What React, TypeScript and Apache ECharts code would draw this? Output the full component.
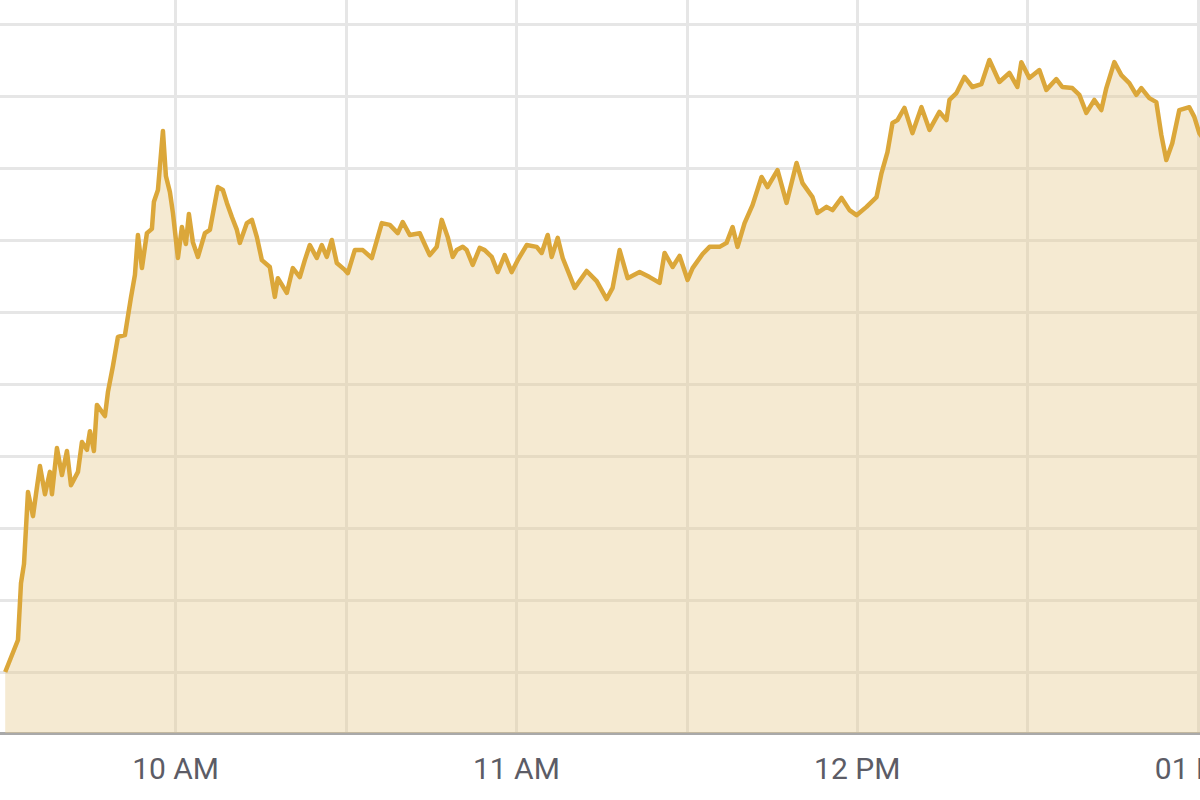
import React, { useEffect, useRef } from "react";
import * as echarts from "echarts";

// minutes after 09:30
const minutes = [
  0, 2.25, 2.78, 3.31, 4.01, 4.89, 5.42, 6.12, 7.0, 7.88,
  8.23, 9.11, 9.99, 10.87, 11.58, 12.81, 13.51, 14.39, 14.92, 15.62,
  16.15, 17.56, 18.09, 18.97, 19.85, 21.08, 22.13, 22.84, 23.37, 24.07,
  24.95, 25.83, 26.18, 26.89, 27.77, 28.29, 29.0, 29.53, 30.41, 31.11,
  31.81, 32.34, 33.04, 33.93, 35.16, 36.04, 37.44, 38.32, 39.03, 39.91,
  40.79, 41.31, 42.55, 43.43, 44.31, 45.19, 46.59, 47.47, 48.0, 49.58,
  50.64, 51.87, 52.75, 53.63, 54.86, 55.74, 56.62, 57.5, 58.38, 59.79,
  60.32, 61.55, 62.96, 64.54, 66.3, 67.71, 69.11, 69.99, 71.23, 72.98,
  73.51, 74.74, 75.97, 76.85, 77.91, 78.79, 79.49, 80.55, 81.25, 82.31,
  83.54, 84.42, 85.65, 86.71, 87.94, 89.17, 90.23, 91.81, 93.57, 94.45,
  95.51, 96.21, 97.27, 98.15, 100.26, 102.37, 104.13, 105.89, 106.94, 108.17,
  109.58, 111.69, 113.45, 115.21, 116.09, 117.5, 118.73, 120.14, 121.02, 122.78,
  124.01, 125.77, 127.0, 128.06, 128.93, 130.17, 131.57, 133.16, 134.21, 135.97,
  137.56, 139.32, 140.37, 142.13, 143.01, 144.6, 145.65, 147.24, 148.64, 149.88,
  151.64, 153.4, 154.28, 155.33, 156.21, 157.09, 158.32, 159.73, 161.31, 162.72,
  164.48, 165.71, 166.24, 167.47, 168.88, 170.28, 171.87, 173.27, 175.03, 176.79,
  178.2, 178.9, 180.31, 182.07, 183.3, 185.06, 186.11, 187.87, 189.11, 190.34,
  191.75, 192.98, 193.86, 195.27, 196.5, 197.91, 199.14, 200.02, 201.43, 202.66,
  203.54, 204.42, 205.47, 206.71, 208.47, 209.35, 210.23, 211.1,
];

const prices = [
  1300.0, 1300.89, 1302.47, 1303.0, 1305.0, 1304.33, 1304.94, 1305.72, 1304.94, 1305.56,
  1304.94, 1306.22, 1305.47, 1306.14, 1305.19, 1305.56, 1306.39, 1306.17, 1306.69, 1306.14,
  1307.42, 1307.11, 1307.78, 1308.5, 1309.31, 1309.36, 1310.39, 1311.03, 1312.14, 1311.22,
  1312.19, 1312.31, 1313.06, 1313.39, 1315.03, 1313.78, 1313.33, 1312.75, 1311.5, 1312.36,
  1311.89, 1312.72, 1311.94, 1311.53, 1312.19, 1312.28, 1313.47, 1313.39, 1313.03, 1312.64,
  1312.28, 1311.92, 1312.47, 1312.56, 1312.08, 1311.44, 1311.25, 1310.42, 1310.94, 1310.53,
  1311.22, 1310.97, 1311.44, 1311.86, 1311.5, 1311.86, 1311.53, 1312.0, 1311.36, 1311.17,
  1311.08, 1311.72, 1311.72, 1311.5, 1312.47, 1312.42, 1312.19, 1312.5, 1312.14, 1312.19,
  1312.0, 1311.58, 1311.81, 1312.56, 1312.08, 1311.53, 1311.72, 1311.81, 1311.72, 1311.31,
  1311.78, 1311.72, 1311.53, 1311.11, 1311.58, 1311.11, 1311.44, 1311.86, 1311.81, 1311.64,
  1312.14, 1311.53, 1312.06, 1311.5, 1310.67, 1311.14, 1310.86, 1310.36, 1310.67, 1311.72,
  1310.94, 1311.11, 1310.97, 1310.81, 1311.64, 1311.25, 1311.56, 1310.89, 1311.22, 1311.61,
  1311.81, 1311.81, 1311.92, 1312.36, 1311.81, 1312.47, 1312.97, 1313.75, 1313.47, 1313.94,
  1313.03, 1314.14, 1313.58, 1313.19, 1312.75, 1312.92, 1312.83, 1313.17, 1312.83, 1312.69,
  1312.92, 1313.19, 1313.86, 1314.44, 1315.25, 1315.33, 1315.67, 1314.97, 1315.69, 1315.06,
  1315.56, 1315.33, 1315.89, 1316.08, 1316.53, 1316.25, 1316.33, 1317.0, 1316.39, 1316.64,
  1316.25, 1316.94, 1316.5, 1316.72, 1316.17, 1316.47, 1316.25, 1316.22, 1316.03, 1315.53,
  1315.89, 1315.61, 1316.22, 1316.94, 1316.58, 1316.36, 1316.03, 1316.22, 1315.94, 1315.83,
  1314.92, 1314.22, 1314.69, 1315.61, 1315.69, 1315.42, 1314.97, 1314.78,
];

// x-axis hour labels (minutes after 09:30)
const hourTicks = [30, 90, 150, 210];
const hourLabels = ["10 AM", "11 AM", "12 PM", "01 PM"];

const GRID = "#e6e6e6";
const HIDDEN = "rgba(0,0,0,0)";

export default function App() {
  const ref = useRef<HTMLDivElement>(null);

  useEffect(() => {
    if (!ref.current) return;
    const chart = echarts.init(ref.current, null, { renderer: "svg" });
    const data = minutes.map((m, i) => [m, prices[i]]);
    chart.setOption({
      animation: false,
      backgroundColor: "#ffffff",
      grid: {
        left: 34.8,
        right: 131.6,
        top: 52,
        bottom: 67,
        containLabel: false,
        outerBoundsMode: "none",
      },
      xAxis: {
        type: "value",
        min: -30,
        max: 240,
        interval: 30,
        axisLine: { show: true, lineStyle: { color: "#a9a9a9", width: 3 } },
        axisTick: { show: false },
        splitLine: {
          show: true,
          lineStyle: {
            color: [GRID, HIDDEN, GRID, GRID, GRID, GRID, GRID, GRID, GRID, GRID],
            width: 3,
          },
        },
        axisLabel: {
          show: true,
          margin: 20,
          color: "#5c5c66",
          fontFamily: "Roboto",
          fontSize: 30,
          hideOverlap: false,
          formatter: (v: number) => {
            const idx = hourTicks.indexOf(Math.round(v));
            return idx >= 0 ? hourLabels[idx] : "";
          },
        },
      },
      yAxis: {
        type: "value",
        min: 1298.306,
        max: 1320,
        minInterval: 2,
        maxInterval: 2,
        splitNumber: 10,
        axisLine: { show: false },
        axisTick: { show: false },
        axisLabel: { show: false },
        splitLine: { show: true, lineStyle: { color: GRID, width: 3 } },
      },
      series: [
        {
          type: "line",
          data,
          symbol: "none",
          showSymbol: false,
          smooth: false,
          lineStyle: { color: "#dba73a", width: 4.5, join: "round" },
          areaStyle: { color: "rgba(230,206,148,0.6)" },
        },
      ],
    });
    return () => chart.dispose();
  }, []);

  return (
    <div
      style={{
        position: "fixed",
        left: 0,
        top: 0,
        width: 1200,
        height: 800,
        overflow: "hidden",
        background: "#fff",
      }}
    >
      <div
        ref={ref}
        style={{ position: "absolute", left: -200, top: -100, width: 1700, height: 900 }}
      />
    </div>
  );
}
